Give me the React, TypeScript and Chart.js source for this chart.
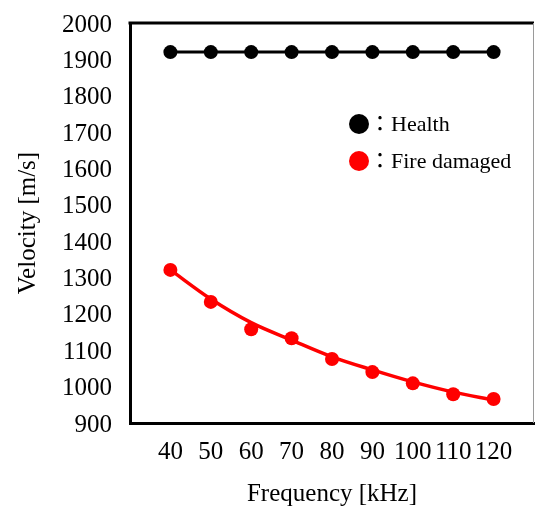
import React, { useEffect, useRef } from 'react';
import { Chart, registerables } from 'chart.js';

Chart.register(...registerables);

// ---- data ----
const frequencies = [40, 50, 60, 70, 80, 90, 100, 110, 120];
const healthVelocity = [1920, 1920, 1920, 1920, 1920, 1920, 1920, 1920, 1920];
const fireVelocity = [1321, 1233, 1158, 1133, 1076, 1040, 1009, 979, 966];
const fireTrend = [1321, 1241, 1176, 1128, 1082, 1046, 1013, 985, 963];
const seriesLabels = ['Health', 'Fire damaged'];
const xRange = [30, 130];
const yRange = [900, 2000];
const xStep = 10;
const yStep = 100;
const xTitle = 'Frequency [kHz]';
const yTitle = 'Velocity [m/s]';

const SERIF = "'Liberation Serif', 'Times New Roman', serif";
const W = 535;
const H = 507;

const toPoints = (ys: number[]) => frequencies.map((f, i) => ({ x: f, y: ys[i] }));

const framePlugin = {
  id: 'frame',
  afterDraw(chart: any) {
    const { ctx, chartArea } = chart;
    const { left, right, top, bottom } = chartArea;
    ctx.save();
    ctx.strokeStyle = '#000';
    ctx.lineWidth = 3;
    ctx.beginPath();
    ctx.moveTo(left - 1.5, top);
    ctx.lineTo(right, top);
    ctx.stroke();
    ctx.strokeStyle = '#9a9a9a';
    ctx.lineWidth = 1;
    ctx.beginPath();
    ctx.moveTo(right - 0.5, top);
    ctx.lineTo(right - 0.5, bottom);
    ctx.stroke();
    ctx.restore();
  },
};

const legendPlugin = {
  id: 'innerLegend',
  afterDraw(chart: any) {
    const { ctx } = chart;
    const items = chart.data.datasets.filter((d: any) => d.inLegend);
    ctx.save();
    items.forEach((d: any, i: number) => {
      const cx = 359;
      const cy = 124 + i * 37;
      ctx.fillStyle = d.pointBackgroundColor;
      ctx.beginPath();
      ctx.arc(cx, cy, 10, 0, Math.PI * 2);
      ctx.fill();
      ctx.fillStyle = '#000';
      ctx.font = `22px ${SERIF}, 'Noto Sans CJK JP'`;
      ctx.textBaseline = 'middle';
      ctx.textAlign = 'left';
      ctx.fillText('\uFF1A' + d.label, 369, cy + 1);
    });
    ctx.restore();
  },
};

export default function App() {
  const canvasRef = useRef<HTMLCanvasElement | null>(null);

  useEffect(() => {
    document.body.style.margin = '0';
    const canvas = canvasRef.current;
    if (!canvas) return;
    const chart = new Chart(canvas, {
      type: 'line',
      data: {
        datasets: [
          {
            label: seriesLabels[0],
            inLegend: true,
            data: toPoints(healthVelocity),
            borderColor: '#000',
            backgroundColor: '#000',
            pointBackgroundColor: '#000',
            pointBorderColor: '#000',
            borderWidth: 3,
            pointRadius: 7,
            pointBorderWidth: 0,
            order: 0,
          } as any,
          {
            label: seriesLabels[1],
            inLegend: true,
            data: toPoints(fireVelocity),
            showLine: false,
            borderColor: '#ff0000',
            backgroundColor: '#ff0000',
            pointBackgroundColor: '#ff0000',
            pointBorderColor: '#ff0000',
            pointRadius: 7,
            pointBorderWidth: 0,
            order: 0,
          } as any,
          {
            label: seriesLabels[1] + ' trend',
            data: toPoints(fireTrend),
            borderColor: '#ff0000',
            backgroundColor: '#ff0000',
            borderWidth: 3.5,
            pointRadius: 0,
            cubicInterpolationMode: 'monotone',
            order: 1,
          } as any,
        ],
      },
      options: {
        responsive: false,
        animation: false,
        events: [],
        layout: { autoPadding: false, padding: { top: 23, right: 1, left: 0, bottom: 0 } },
        plugins: {
          legend: { display: false },
          tooltip: { enabled: false },
        },
        scales: {
          x: {
            type: 'linear',
            min: xRange[0],
            max: xRange[1],
            grid: { display: false, drawTicks: false },
            border: { display: true, color: '#000', width: 3 },
            ticks: {
              stepSize: xStep,
              autoSkip: false,
              maxRotation: 0,
              minRotation: 0,
              padding: 14,
              color: '#000',
              font: { family: SERIF, size: 25 },
              callback: (v: any) => (v === xRange[0] || v === xRange[1] ? '' : String(v)),
            },
            title: {
              display: true,
              text: xTitle,
              color: '#000',
              font: { family: SERIF, size: 25, lineHeight: 1 },
              padding: { top: 0, bottom: 0 },
            },
            afterFit: (s: any) => {
              s.height = H - 423;
              s.paddingLeft = 0;
              s.paddingRight = 0;
            },
          },
          y: {
            type: 'linear',
            min: yRange[0],
            max: yRange[1],
            grid: { display: false, drawTicks: false },
            border: { display: true, color: '#000', width: 3 },
            ticks: {
              stepSize: yStep,
              padding: 18,
              labelOffset: 2,
              color: '#000',
              font: { family: SERIF, size: 25 },
              callback: (v: any) => String(v),
            },
            title: {
              display: true,
              text: yTitle,
              color: '#000',
              font: { family: SERIF, size: 25, lineHeight: 1 },
              padding: { top: 16, bottom: 0 },
            },
            afterFit: (s: any) => {
              s.width = 130;
              s.paddingTop = 0;
              s.paddingBottom = 0;
            },
          },
        },
      },
      plugins: [framePlugin, legendPlugin],
    } as any);
    return () => chart.destroy();
  }, []);

  return (
    <div style={{ position: 'absolute', left: 0, top: 0, width: W, height: H, background: '#fff' }}>
      <canvas ref={canvasRef} width={W} height={H} style={{ width: W, height: H, display: 'block' }} />
    </div>
  );
}
